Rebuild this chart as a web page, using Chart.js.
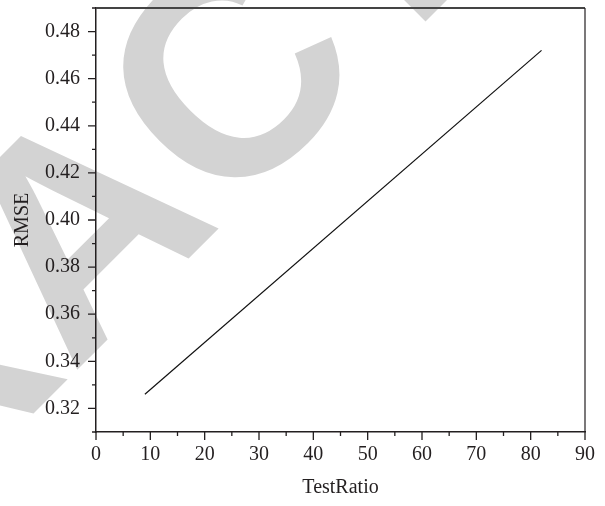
<!DOCTYPE html>
<html lang="en">
<head>
    <meta charset="UTF-8">
    <title>RMSE vs TestRatio</title>
    <script src="https://cdn.jsdelivr.net/npm/chart.js"></script>
    <style>
        html, body { margin: 0; padding: 0; background: #fff; }
        #wrap { width: 605px; height: 506px; }
    </style>
</head>
<body>
    <div id="wrap"><canvas id="rmseChart" width="605" height="506"></canvas></div>

    <script>
        // values
        const testRatio = [9, 82];
        const rmse = [0.326, 0.472];
        const xTicks = [0, 10, 20, 30, 40, 50, 60, 70, 80, 90];
        const yTicks = [0.32, 0.34, 0.36, 0.38, 0.40, 0.42, 0.44, 0.46, 0.48];

        const serif = '"Liberation Serif", "Times New Roman", serif';
        const ink = '#231f20';

        // big grey "RETRACTED" stamp behind the plot
        const stamp = {
            id: 'stamp',
            beforeDraw(chart) {
                const ctx = chart.ctx;
                ctx.save();
                ctx.fillStyle = '#d3d3d3';
                ctx.font = 'bold 298px "Liberation Sans", Arial, sans-serif';
                ctx.textAlign = 'left';
                ctx.textBaseline = 'alphabetic';
                // origin sits at the foot of the "A"
                ctx.translate(72, 375);
                ctx.rotate(-45 * Math.PI / 180);
                const lead = ctx.measureText('RETR').width;
                ctx.fillText('RETRACTED', -lead, 0);
                ctx.restore();
            }
        };

        // outward ticks, long on labelled values, short in between; plus top/right frame
        const frame = {
            id: 'frame',
            afterDraw(chart) {
                const ctx = chart.ctx;
                const a = chart.chartArea;
                const xs = chart.scales.x, ys = chart.scales.y;
                ctx.save();
                ctx.strokeStyle = ink;
                ctx.lineWidth = 1.3;
                ctx.beginPath();
                xs.ticks.forEach(t => {
                    const px = xs.getPixelForValue(t.value);
                    const len = xTicks.includes(Math.round(t.value)) ? 8 : 4;
                    ctx.moveTo(px, a.bottom);
                    ctx.lineTo(px, a.bottom + len);
                });
                ys.ticks.forEach(t => {
                    const py = ys.getPixelForValue(t.value);
                    const major = yTicks.some(v => Math.abs(v - t.value) < 1e-6);
                    ctx.moveTo(a.left, py);
                    ctx.lineTo(a.left - (major ? 8 : 4), py);
                });
                ctx.stroke();

                ctx.lineWidth = 1.8;
                ctx.strokeStyle = '#444';
                ctx.beginPath();
                ctx.moveTo(a.left, a.top);
                ctx.lineTo(a.right, a.top);
                ctx.stroke();
                ctx.lineWidth = 1.2;
                ctx.strokeStyle = ink;
                ctx.beginPath();
                ctx.moveTo(a.right, a.top);
                ctx.lineTo(a.right, a.bottom);
                ctx.stroke();
                ctx.restore();
            }
        };

        new Chart(document.getElementById('rmseChart'), {
            type: 'scatter',
            data: {
                datasets: [{
                    label: 'RMSE',
                    data: testRatio.map((x, i) => ({ x: x, y: rmse[i] })),
                    showLine: true,
                    borderColor: '#111',
                    borderWidth: 1.2,
                    pointRadius: 0,
                    fill: false
                }]
            },
            options: {
                responsive: false,
                animation: false,
                layout: { padding: { top: 8, right: 20, left: 0, bottom: 0 } },
                plugins: { legend: { display: false }, tooltip: { enabled: false } },
                scales: {
                    x: {
                        type: 'linear',
                        min: 0,
                        max: 90,
                        ticks: {
                            stepSize: 5,
                            color: ink,
                            padding: 11,
                            maxRotation: 0,
                            autoSkip: false,
                            font: { family: serif, size: 20 },
                            callback: v => xTicks.includes(Math.round(v)) ? String(Math.round(v)) : ''
                        },
                        grid: { display: false, drawTicks: false },
                        border: { display: true, color: ink, width: 1.5 },
                        title: {
                            display: true,
                            text: 'TestRatio',
                            color: ink,
                            font: { family: serif, size: 20 },
                            padding: { top: 6, bottom: 6 }
                        },
                        afterFit: s => {
                            s.height = 74;
                            s.paddingLeft = 0;
                            s.paddingRight = 0;
                        }
                    },
                    y: {
                        type: 'linear',
                        min: 0.31,
                        max: 0.49,
                        ticks: {
                            stepSize: 0.01,
                            color: ink,
                            padding: 16,
                            autoSkip: false,
                            font: { family: serif, size: 20 },
                            callback: v => yTicks.some(t => Math.abs(t - v) < 1e-6) ? v.toFixed(2) : ''
                        },
                        grid: { display: false, drawTicks: false },
                        border: { display: true, color: ink, width: 1.5 },
                        title: {
                            display: true,
                            text: 'RMSE',
                            color: ink,
                            font: { family: serif, size: 20 },
                            padding: { top: 11, bottom: 0 }
                        },
                        afterFit: s => {
                            s.width = 96;
                            s.paddingTop = 0;
                            s.paddingBottom = 0;
                        }
                    }
                }
            },
            plugins: [stamp, frame]
        });
    </script>
</body>
</html>
